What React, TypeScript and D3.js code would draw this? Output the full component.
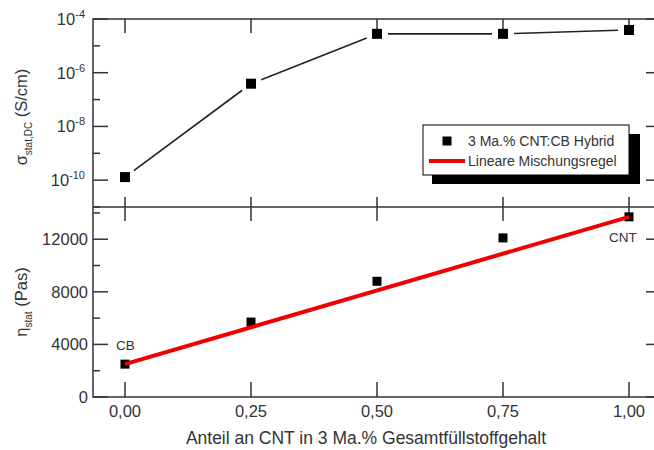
import React from 'react';
import * as d3 from 'd3';

// Anteil an CNT (x) für beide Panels
const anteil = [0, 0.25, 0.5, 0.75, 1.0];
// Leitfähigkeit sigma_stat,DC in S/cm
const sigmaDC = [1.3e-10, 3.9e-7, 2.8e-5, 2.8e-5, 3.9e-5];
// Viskosität eta_stat in Pas
const etaStat = [2500, 5700, 8800, 12100, 13700];
// lineare Mischungsregel (Endpunkte CB -> CNT)
const mixX = [0, 1];
const mixY = [2500, 13700];

const xTickVals = [0, 0.25, 0.5, 0.75, 1.0];
const xTickLabels = ['0,00', '0,25', '0,50', '0,75', '1,00'];
const logMajor = [-4, -6, -8, -10];
const logMinor = [-5, -7, -9, -11];
const etaMajor = [0, 4000, 8000, 12000];
const etaMinor = [2000, 6000, 10000, 14000];

const W = 654;
const H = 450;
const left = 93;
const right = 661;
const top = 19;
const mid = 207;
const bottom = 397;
const font = '"Liberation Sans", Arial, sans-serif';
const ink = '#333';

export default function App() {
  const x = d3.scaleLinear().domain([0, 1]).range([125, 629]);
  const ySig = d3.scaleLog().domain([1e-11, 1e-4]).range([mid, top]);
  const yEta = d3.scaleLinear().domain([0, 14450]).range([bottom, mid]);

  // Segmente mit Lücke an den Markern
  const gap = 11;
  const segs = anteil.slice(1).map((v, i) => {
    const x1 = x(anteil[i]), y1 = ySig(sigmaDC[i]);
    const x2 = x(v), y2 = ySig(sigmaDC[i + 1]);
    const len = Math.hypot(x2 - x1, y2 - y1);
    const ux = (x2 - x1) / len, uy = (y2 - y1) / len;
    return { x1: x1 + ux * gap, y1: y1 + uy * gap, x2: x2 - ux * gap, y2: y2 - uy * gap };
  });

  const mixLine = d3.line<number>()
    .x((d) => x(d))
    .y((d, i) => yEta(mixY[i]));

  const tickLabel = { fontFamily: font, fontSize: 16.5, fill: ink };

  return (
    <svg width={W} height={H} style={{ position: 'absolute', left: 0, top: 0 }}>
      <rect width={W} height={H} fill="#fff" />

      {/* Rahmen */}
      <g stroke={ink} strokeWidth={1.5} fill="none">
        <rect x={left} y={top} width={right - left} height={bottom - top} />
        <line x1={left} x2={right} y1={mid} y2={mid} />
      </g>

      {/* x-Ticks */}
      <g stroke={ink} strokeWidth={1.5}>
        {xTickVals.map((v) => (
          <g key={v}>
            <line x1={x(v)} x2={x(v)} y1={top} y2={top + 14} />
            <line x1={x(v)} x2={x(v)} y1={mid} y2={mid - 10} />
            <line x1={x(v)} x2={x(v)} y1={mid} y2={mid + 14} />
            <line x1={x(v)} x2={x(v)} y1={bottom} y2={bottom - 15} />
          </g>
        ))}
      </g>
      {xTickVals.map((v, i) => (
        <text key={v} x={x(v)} y={417} textAnchor="middle" {...tickLabel}>{xTickLabels[i]}</text>
      ))}

      {/* y-Ticks oben (log) */}
      <g stroke={ink} strokeWidth={1.5}>
        {logMajor.map((e) => (
          <g key={e}>
            <line x1={left} x2={left + 15} y1={ySig(10 ** e)} y2={ySig(10 ** e)} />
            <line x1={right} x2={right - 15} y1={ySig(10 ** e)} y2={ySig(10 ** e)} />
          </g>
        ))}
        {logMinor.map((e) => (
          <g key={e}>
            <line x1={left} x2={left + 7} y1={ySig(10 ** e)} y2={ySig(10 ** e)} />
            <line x1={right} x2={right - 7} y1={ySig(10 ** e)} y2={ySig(10 ** e)} />
          </g>
        ))}
      </g>
      {logMajor.map((e) => (
        <text key={e} x={85} y={ySig(10 ** e) + 6} textAnchor="end" {...tickLabel}>
          10<tspan dy={-7} fontSize={11}>{e}</tspan>
        </text>
      ))}

      {/* y-Ticks unten */}
      <g stroke={ink} strokeWidth={1.5}>
        {etaMajor.map((v) => (
          <g key={v}>
            <line x1={left} x2={left + 15} y1={yEta(v)} y2={yEta(v)} />
            <line x1={right} x2={right - 15} y1={yEta(v)} y2={yEta(v)} />
          </g>
        ))}
        {etaMinor.map((v) => (
          <g key={v}>
            <line x1={left} x2={left + 7} y1={yEta(v)} y2={yEta(v)} />
            <line x1={right} x2={right - 7} y1={yEta(v)} y2={yEta(v)} />
          </g>
        ))}
      </g>
      {etaMajor.map((v) => (
        <text key={v} x={88} y={yEta(v) + 6} textAnchor="end" {...tickLabel}>{v}</text>
      ))}

      {/* Achsentitel */}
      <text transform="translate(27,117) rotate(-90)" textAnchor="middle" fontFamily={font} fontSize={16.5} fill={ink}>
        σ<tspan dy={5} fontSize={10}>stat,DC</tspan><tspan dy={-5}> (S/cm)</tspan>
      </text>
      <text transform="translate(27,302) rotate(-90)" textAnchor="middle" fontFamily={font} fontSize={16.5} fill={ink}>
        η<tspan dy={5} fontSize={10}>stat</tspan><tspan dy={-5}> (Pas)</tspan>
      </text>
      <text x={366} y={444} textAnchor="middle" fontFamily={font} fontSize={17.5} fill={ink}>
        Anteil an CNT in 3 Ma.% Gesamtfüllstoffgehalt
      </text>

      {/* oberes Panel: Leitfähigkeit */}
      <g stroke="#222" strokeWidth={1.6}>
        {segs.map((s, i) => (
          <line key={i} x1={s.x1} y1={s.y1} x2={s.x2} y2={s.y2} />
        ))}
      </g>
      {anteil.map((v, i) => (
        <rect key={v} x={x(v) - 5} y={ySig(sigmaDC[i]) - 5} width={10} height={10} fill="#000" />
      ))}

      {/* unteres Panel: Viskosität */}
      {anteil.map((v, i) => (
        <rect key={v} x={x(v) - 4.5} y={yEta(etaStat[i]) - 4.5} width={9} height={9} fill="#000" />
      ))}
      <path d={mixLine(mixX) || ''} stroke="#f00000" strokeWidth={4} fill="none" />
      <text x={116} y={350} fontFamily={font} fontSize={13.5} fill={ink}>CB</text>
      <text x={609} y={242} fontFamily={font} fontSize={13.5} fill={ink}>CNT</text>

      {/* Legende */}
      <rect x={432} y={134} width={208} height={50} fill="#000" />
      <rect x={423} y={125} width={206} height={50} fill="#fff" stroke="#000" strokeWidth={1} />
      <rect x={442.5} y={136.5} width={9} height={9} fill="#000" />
      <text x={468} y={146} fontFamily={font} fontSize={14} fill={ink}>3 Ma.% CNT:CB Hybrid</text>
      <line x1={429} x2={465} y1={161} y2={161} stroke="#f00000" strokeWidth={4} />
      <text x={468} y={166} fontFamily={font} fontSize={14} fill={ink}>Lineare Mischungsregel</text>
    </svg>
  );
}
